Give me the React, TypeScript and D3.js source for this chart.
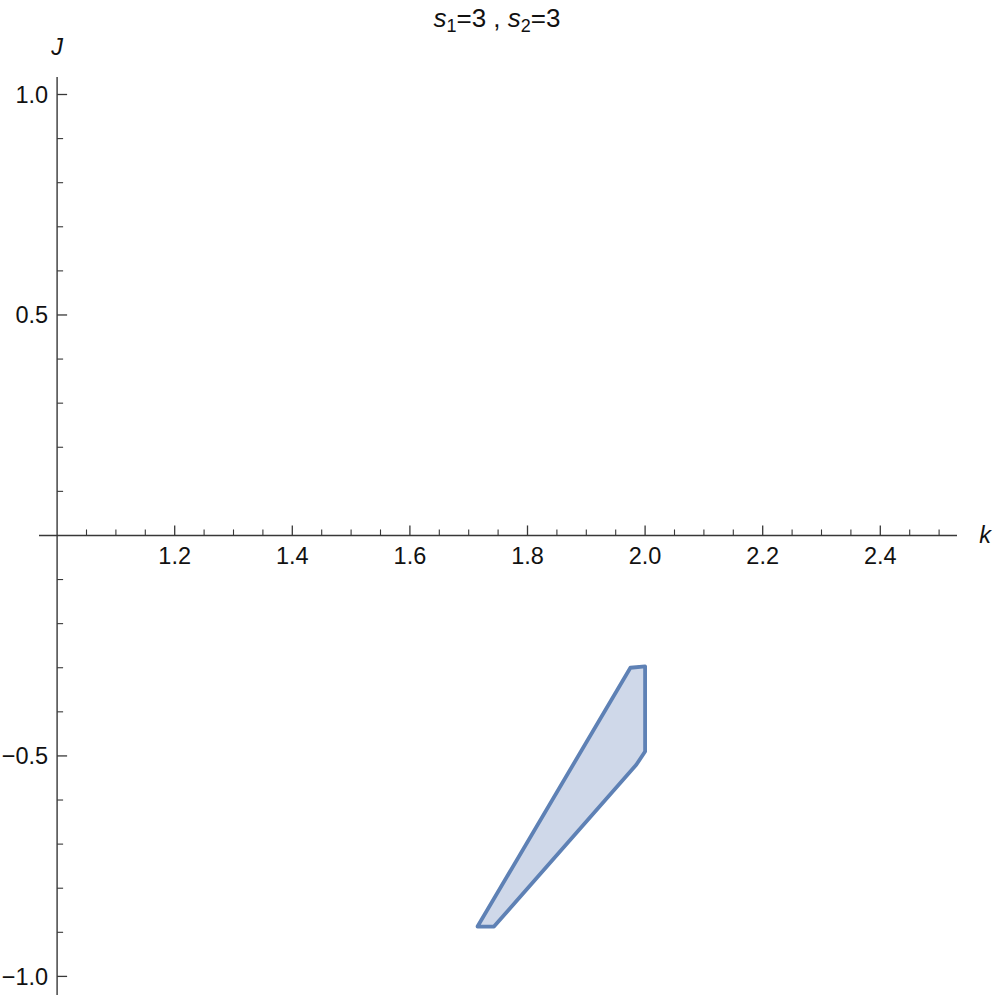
import React from "react";
import * as d3 from "d3";

const regionK = [1.975, 2.0, 2.0, 1.985, 1.743, 1.715];
const regionJ = [-0.3, -0.297, -0.49, -0.52, -0.887, -0.887];

const xTickValues = [1.2, 1.4, 1.6, 1.8, 2.0, 2.2, 2.4];
const xTickLabels = ["1.2", "1.4", "1.6", "1.8", "2.0", "2.2", "2.4"];
const yTickValues = [1.0, 0.5, -0.5, -1.0];
const yTickLabels = ["1.0", "0.5", "\u22120.5", "\u22121.0"];

const W = 997;
const H = 1000;
const FONT = "'Liberation Sans', Arial, sans-serif";
const AXIS = "#383838";
const TEXT = "#111";

export default function App() {
  const x = d3.scaleLinear().domain([1, 2.5]).range([57.1, 57.1 + 1.5 * 588]);
  const y = d3.scaleLinear().domain([1, -1]).range([94.5, 976.4]);
  const x0 = x(1);
  const y0 = y(0);

  const xMinor = d3.range(1.05, 2.5001, 0.05).filter(
    (v) => !xTickValues.some((t) => Math.abs(t - v) < 1e-6)
  );
  const yMinor = d3.range(-1.0, 1.0001, 0.1).filter(
    (v) => Math.abs(v) > 1e-6 && !yTickValues.some((t) => Math.abs(t - v) < 1e-6)
  );

  const pts: [number, number][] = regionK.map((k, i) => [x(k), y(regionJ[i])]);
  const line = d3.line().curve(d3.curveLinearClosed);

  return (
    <svg
      width={W}
      height={H}
      style={{ position: "absolute", left: 0, top: 0, background: "#fff" }}
      fontFamily={FONT}
    >
      {/* region */}
      <path
        d={line(pts) || ""}
        fill="#cfd8e9"
        stroke="#5e81b5"
        strokeWidth={3.8}
        strokeLinejoin="round"
      />

      {/* x axis */}
      <line x1={39} x2={957} y1={y0} y2={y0} stroke={AXIS} strokeWidth={1.4} />
      {xTickValues.map((v, i) => (
        <g key={"xt" + i}>
          <line x1={x(v)} x2={x(v)} y1={y0} y2={y0 - 10} stroke={AXIS} strokeWidth={1.3} />
          <text x={x(v)} y={y0 + 29} textAnchor="middle" fontSize={23.5} fill={TEXT}>
            {xTickLabels[i]}
          </text>
        </g>
      ))}
      {xMinor.map((v, i) => (
        <line key={"xm" + i} x1={x(v)} x2={x(v)} y1={y0} y2={y0 - 6} stroke={AXIS} strokeWidth={1.1} />
      ))}
      <text x={985} y={y0 + 8} textAnchor="middle" fontSize={23.5} fontStyle="italic" fill={TEXT}>
        k
      </text>

      {/* y axis */}
      <line x1={x0} x2={x0} y1={77} y2={995} stroke={AXIS} strokeWidth={1.4} />
      {yTickValues.map((v, i) => (
        <g key={"yt" + i}>
          <line x1={x0} x2={x0 + 10} y1={y(v)} y2={y(v)} stroke={AXIS} strokeWidth={1.3} />
          <text x={x0 - 9} y={y(v) + 8.3} textAnchor="end" fontSize={23.5} fill={TEXT}>
            {yTickLabels[i]}
          </text>
        </g>
      ))}
      {yMinor.map((v, i) => (
        <line key={"ym" + i} x1={x0} x2={x0 + 6} y1={y(v)} y2={y(v)} stroke={AXIS} strokeWidth={1.1} />
      ))}
      <text x={x0} y={55} textAnchor="middle" fontSize={23.5} fontStyle="italic" fill={TEXT}>
        J
      </text>

      {/* title */}
      <text x={497} y={27} textAnchor="middle" fontSize={26} fill={TEXT}>
        <tspan fontStyle="italic">s</tspan>
        <tspan fontSize={18} dy={5}>1</tspan>
        <tspan dy={-5}>=3 , </tspan>
        <tspan fontStyle="italic">s</tspan>
        <tspan fontSize={18} dy={5}>2</tspan>
        <tspan dy={-5}>=3</tspan>
      </text>
    </svg>
  );
}
